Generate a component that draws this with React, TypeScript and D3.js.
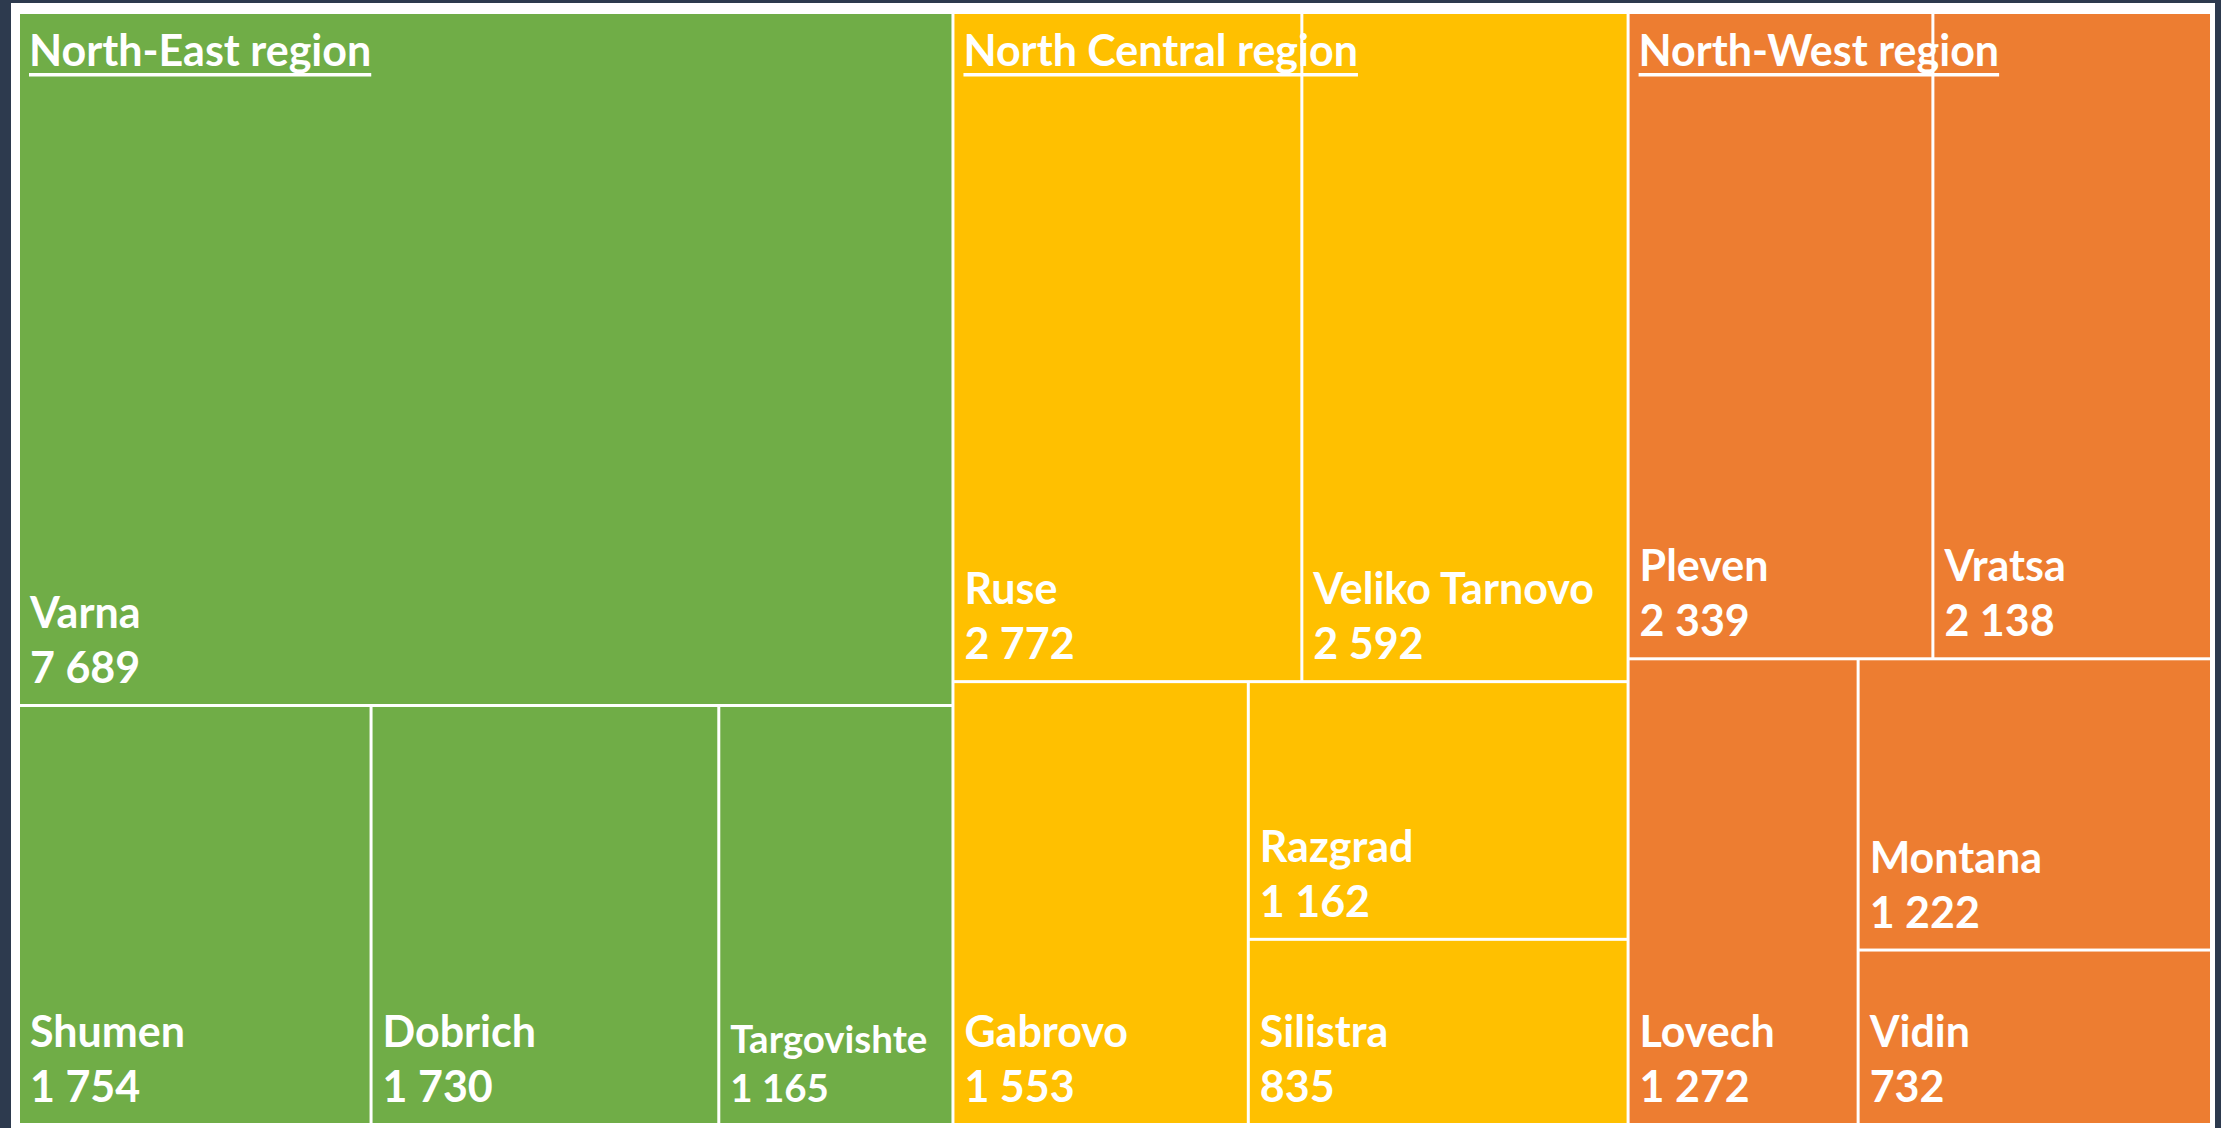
import React from "react";
import * as d3 from "d3";

// ---- data ----
const regions = ["North-East region", "North Central region", "North-West region"];
const districts = [
  "Varna", "Shumen", "Dobrich", "Targovishte",
  "Ruse", "Veliko Tarnovo", "Gabrovo", "Razgrad", "Silistra",
  "Pleven", "Vratsa", "Lovech", "Montana", "Vidin",
];
const values = [7689, 1754, 1730, 1165, 2772, 2592, 1553, 1162, 835, 2339, 2138, 1272, 1222, 732];
// grouping of district indices inside each region (rows / stacks of the treemap)
const tileGroups: any[] = [
  [[0], [1, 2, 3]],
  [[4, 5], [6, [7, 8]]],
  [[9, 10], [11, [12, 13]]],
];

// ---- style ----
const W = 2221, H = 1128;
const BG = "#2d3a4e";
const regionColors = ["#70AD47", "#FFC000", "#ED7D31"];
const FONT = "Lato, 'Open Sans', sans-serif";
const BASE = 43;

type N = { name?: string; value?: number; region?: number; leaf?: boolean; children?: N[] };

function build(spec: any, region: number): N {
  if (typeof spec === "number") {
    return { name: districts[spec], value: values[spec], region, leaf: true };
  }
  return { region, children: spec.map((s: any) => build(s, region)) };
}

const canvas = typeof document !== "undefined" ? document.createElement("canvas") : null;
function measure(text: string, size: number) {
  const ctx = canvas!.getContext("2d")!;
  ctx.font = `bold ${size}px Lato`;
  return ctx.measureText(text).width;
}

const fmt = (v: number) => d3.format(",")(v).replace(/,/g, " ");

export default function App() {
  const x0 = 20, y0 = 14, x1 = 2210, y1 = 1123;
  const data: N = {
    children: regions.map((r, i) => ({ name: r, region: i, children: tileGroups[i].map((g: any) => build(g, i)) })),
  };
  const root = d3.hierarchy<N>(data).sum((d) => (d.leaf ? d.value || 0 : 0));
  d3.treemap<N>().tile(d3.treemapSliceDice).size([x1 - x0, y1 - y0]).paddingInner(3)(root);
  const rootR = root as d3.HierarchyRectangularNode<N>;
  const leaves = rootR.leaves();
  const regionNodes = rootR.children || [];

  return (
    <svg width={W} height={H} style={{ position: "absolute", left: 0, top: 0, display: "block" }}>
      <rect x={0} y={0} width={W} height={H} fill={BG} />
      <rect x={11} y={3} width={2204} height={1125} fill="#ffffff" />
      <g transform={`translate(${x0},${y0})`}>
        {leaves.map((l, i) => {
          const w = l.x1 - l.x0;
          const nameW = measure(l.data.name!, BASE);
          const s = Math.min(1, (w - 34) / nameW);
          const fs = BASE * s;
          return (
            <g key={i}>
              <rect x={l.x0} y={l.y0} width={w} height={l.y1 - l.y0} fill={regionColors[l.data.region!]} />
              <text x={l.x0 + 10} y={l.y1 - 21 - 55 * (s < 1 ? 0.89 : 1)} fontFamily={FONT} fontWeight={700} fontSize={fs} fill="#fff">
                {l.data.name}
              </text>
              <text x={l.x0 + 10} y={l.y1 - 21} fontFamily={FONT} fontWeight={700} fontSize={fs} fill="#fff">
                {fmt(l.data.value!)}
              </text>
            </g>
          );
        })}
        {regionNodes.map((r, i) => {
          const tw = measure(r.data.name!, BASE);
          return (
            <g key={"r" + i}>
              <text x={r.x0 + 9} y={r.y0 + 52} fontFamily={FONT} fontWeight={700} fontSize={BASE} fill="#fff">
                {r.data.name}
              </text>
              <rect x={r.x0 + 9} y={r.y0 + 59} width={tw} height={3.5} fill="#fff" />
            </g>
          );
        })}
      </g>
    </svg>
  );
}
